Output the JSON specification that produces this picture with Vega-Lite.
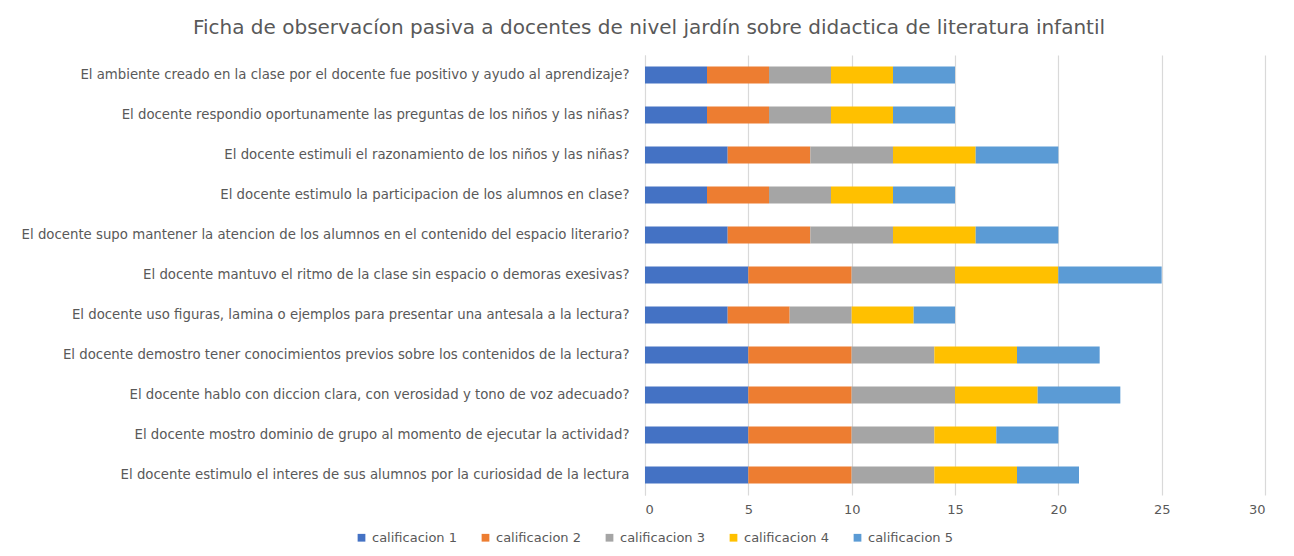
{
  "$schema": "https://vega.github.io/schema/vega-lite/v6.json",
  "width": 620,
  "height": 440,
  "autosize": {"type": "none"},
  "padding": {"left": 645, "top": 55, "right": 29, "bottom": 61},
  "background": "white",
  "title": {
    "text": "Ficha de observacíon pasiva a docentes de nivel jardín sobre didactica de literatura infantil",
    "font": "DejaVu Sans",
    "fontSize": 20,
    "fontWeight": "normal",
    "color": "#595959",
    "anchor": "middle",
    "dx": -306,
    "offset": 17
  },
  "datasets": {
    "obs": [
      {"pregunta": "El ambiente creado en la clase por el docente fue positivo y ayudo al aprendizaje?", "serie": "calificacion 1", "valor": 3},
      {"pregunta": "El ambiente creado en la clase por el docente fue positivo y ayudo al aprendizaje?", "serie": "calificacion 2", "valor": 3},
      {"pregunta": "El ambiente creado en la clase por el docente fue positivo y ayudo al aprendizaje?", "serie": "calificacion 3", "valor": 3},
      {"pregunta": "El ambiente creado en la clase por el docente fue positivo y ayudo al aprendizaje?", "serie": "calificacion 4", "valor": 3},
      {"pregunta": "El ambiente creado en la clase por el docente fue positivo y ayudo al aprendizaje?", "serie": "calificacion 5", "valor": 3},
      {"pregunta": "El docente respondio oportunamente las preguntas de los niños y las niñas?", "serie": "calificacion 1", "valor": 3},
      {"pregunta": "El docente respondio oportunamente las preguntas de los niños y las niñas?", "serie": "calificacion 2", "valor": 3},
      {"pregunta": "El docente respondio oportunamente las preguntas de los niños y las niñas?", "serie": "calificacion 3", "valor": 3},
      {"pregunta": "El docente respondio oportunamente las preguntas de los niños y las niñas?", "serie": "calificacion 4", "valor": 3},
      {"pregunta": "El docente respondio oportunamente las preguntas de los niños y las niñas?", "serie": "calificacion 5", "valor": 3},
      {"pregunta": "El docente estimuli el razonamiento de los niños y las niñas?", "serie": "calificacion 1", "valor": 4},
      {"pregunta": "El docente estimuli el razonamiento de los niños y las niñas?", "serie": "calificacion 2", "valor": 4},
      {"pregunta": "El docente estimuli el razonamiento de los niños y las niñas?", "serie": "calificacion 3", "valor": 4},
      {"pregunta": "El docente estimuli el razonamiento de los niños y las niñas?", "serie": "calificacion 4", "valor": 4},
      {"pregunta": "El docente estimuli el razonamiento de los niños y las niñas?", "serie": "calificacion 5", "valor": 4},
      {"pregunta": "El docente estimulo la participacion de los alumnos en clase?", "serie": "calificacion 1", "valor": 3},
      {"pregunta": "El docente estimulo la participacion de los alumnos en clase?", "serie": "calificacion 2", "valor": 3},
      {"pregunta": "El docente estimulo la participacion de los alumnos en clase?", "serie": "calificacion 3", "valor": 3},
      {"pregunta": "El docente estimulo la participacion de los alumnos en clase?", "serie": "calificacion 4", "valor": 3},
      {"pregunta": "El docente estimulo la participacion de los alumnos en clase?", "serie": "calificacion 5", "valor": 3},
      {"pregunta": "El docente supo mantener la atencion de los alumnos en el contenido del espacio literario?", "serie": "calificacion 1", "valor": 4},
      {"pregunta": "El docente supo mantener la atencion de los alumnos en el contenido del espacio literario?", "serie": "calificacion 2", "valor": 4},
      {"pregunta": "El docente supo mantener la atencion de los alumnos en el contenido del espacio literario?", "serie": "calificacion 3", "valor": 4},
      {"pregunta": "El docente supo mantener la atencion de los alumnos en el contenido del espacio literario?", "serie": "calificacion 4", "valor": 4},
      {"pregunta": "El docente supo mantener la atencion de los alumnos en el contenido del espacio literario?", "serie": "calificacion 5", "valor": 4},
      {"pregunta": "El docente mantuvo el ritmo de la clase sin espacio o demoras exesivas?", "serie": "calificacion 1", "valor": 5},
      {"pregunta": "El docente mantuvo el ritmo de la clase sin espacio o demoras exesivas?", "serie": "calificacion 2", "valor": 5},
      {"pregunta": "El docente mantuvo el ritmo de la clase sin espacio o demoras exesivas?", "serie": "calificacion 3", "valor": 5},
      {"pregunta": "El docente mantuvo el ritmo de la clase sin espacio o demoras exesivas?", "serie": "calificacion 4", "valor": 5},
      {"pregunta": "El docente mantuvo el ritmo de la clase sin espacio o demoras exesivas?", "serie": "calificacion 5", "valor": 5},
      {"pregunta": "El docente uso figuras, lamina o ejemplos para presentar una antesala a la lectura?", "serie": "calificacion 1", "valor": 4},
      {"pregunta": "El docente uso figuras, lamina o ejemplos para presentar una antesala a la lectura?", "serie": "calificacion 2", "valor": 3},
      {"pregunta": "El docente uso figuras, lamina o ejemplos para presentar una antesala a la lectura?", "serie": "calificacion 3", "valor": 3},
      {"pregunta": "El docente uso figuras, lamina o ejemplos para presentar una antesala a la lectura?", "serie": "calificacion 4", "valor": 3},
      {"pregunta": "El docente uso figuras, lamina o ejemplos para presentar una antesala a la lectura?", "serie": "calificacion 5", "valor": 2},
      {"pregunta": "El docente demostro tener conocimientos previos sobre los contenidos de la lectura?", "serie": "calificacion 1", "valor": 5},
      {"pregunta": "El docente demostro tener conocimientos previos sobre los contenidos de la lectura?", "serie": "calificacion 2", "valor": 5},
      {"pregunta": "El docente demostro tener conocimientos previos sobre los contenidos de la lectura?", "serie": "calificacion 3", "valor": 4},
      {"pregunta": "El docente demostro tener conocimientos previos sobre los contenidos de la lectura?", "serie": "calificacion 4", "valor": 4},
      {"pregunta": "El docente demostro tener conocimientos previos sobre los contenidos de la lectura?", "serie": "calificacion 5", "valor": 4},
      {"pregunta": "El docente hablo con diccion clara, con verosidad y tono de voz adecuado?", "serie": "calificacion 1", "valor": 5},
      {"pregunta": "El docente hablo con diccion clara, con verosidad y tono de voz adecuado?", "serie": "calificacion 2", "valor": 5},
      {"pregunta": "El docente hablo con diccion clara, con verosidad y tono de voz adecuado?", "serie": "calificacion 3", "valor": 5},
      {"pregunta": "El docente hablo con diccion clara, con verosidad y tono de voz adecuado?", "serie": "calificacion 4", "valor": 4},
      {"pregunta": "El docente hablo con diccion clara, con verosidad y tono de voz adecuado?", "serie": "calificacion 5", "valor": 4},
      {"pregunta": "El docente mostro dominio de grupo al momento de ejecutar la actividad?", "serie": "calificacion 1", "valor": 5},
      {"pregunta": "El docente mostro dominio de grupo al momento de ejecutar la actividad?", "serie": "calificacion 2", "valor": 5},
      {"pregunta": "El docente mostro dominio de grupo al momento de ejecutar la actividad?", "serie": "calificacion 3", "valor": 4},
      {"pregunta": "El docente mostro dominio de grupo al momento de ejecutar la actividad?", "serie": "calificacion 4", "valor": 3},
      {"pregunta": "El docente mostro dominio de grupo al momento de ejecutar la actividad?", "serie": "calificacion 5", "valor": 3},
      {"pregunta": "El docente estimulo el interes de sus alumnos por la curiosidad de la lectura", "serie": "calificacion 1", "valor": 5},
      {"pregunta": "El docente estimulo el interes de sus alumnos por la curiosidad de la lectura", "serie": "calificacion 2", "valor": 5},
      {"pregunta": "El docente estimulo el interes de sus alumnos por la curiosidad de la lectura", "serie": "calificacion 3", "valor": 4},
      {"pregunta": "El docente estimulo el interes de sus alumnos por la curiosidad de la lectura", "serie": "calificacion 4", "valor": 4},
      {"pregunta": "El docente estimulo el interes de sus alumnos por la curiosidad de la lectura", "serie": "calificacion 5", "valor": 3}
    ]
  },
  "data": {"name": "obs"},
  "mark": {"type": "bar"},
  "encoding": {
    "y": {
      "field": "pregunta",
      "type": "nominal",
      "sort": null,
      "scale": {"paddingInner": 0.57, "paddingOuter": 0.285},
      "axis": {
        "title": null,
        "labelLimit": 700,
        "labelFont": "DejaVu Sans",
        "labelFontSize": 13.3,
        "labelColor": "#595959",
        "labelPadding": 16,
        "ticks": false,
        "domain": true,
        "domainColor": "#d9d9d9",
        "grid": false
      }
    },
    "x": {
      "field": "valor",
      "type": "quantitative",
      "aggregate": "sum",
      "stack": "zero",
      "scale": {"domain": [0, 30], "nice": false},
      "axis": {
        "title": null,
        "values": [0, 5, 10, 15, 20, 25, 30],
        "labelFont": "DejaVu Sans",
        "labelFontSize": 13,
        "labelColor": "#595959",
        "labelPadding": 8,
        "ticks": false,
        "domain": false,
        "grid": true,
        "gridColor": "#d9d9d9",
        "gridWidth": 1.2
      }
    },
    "color": {
      "field": "serie",
      "type": "nominal",
      "scale": {
        "domain": ["calificacion 1", "calificacion 2", "calificacion 3", "calificacion 4", "calificacion 5"],
        "range": ["#4472C4", "#ED7D31", "#A5A5A5", "#FFC000", "#5B9BD5"]
      },
      "legend": {
        "title": null,
        "orient": "none",
        "direction": "horizontal",
        "legendX": -290,
        "legendY": 476,
        "symbolType": "square",
        "symbolSize": 60,
        "symbolStrokeWidth": 0,
        "labelFont": "DejaVu Sans",
        "labelFontSize": 13,
        "labelColor": "#595959",
        "columnPadding": 22,
        "labelOffset": 4
      }
    },
    "order": {"field": "serie", "sort": "ascending"}
  },
  "config": {"view": {"stroke": null}}
}
